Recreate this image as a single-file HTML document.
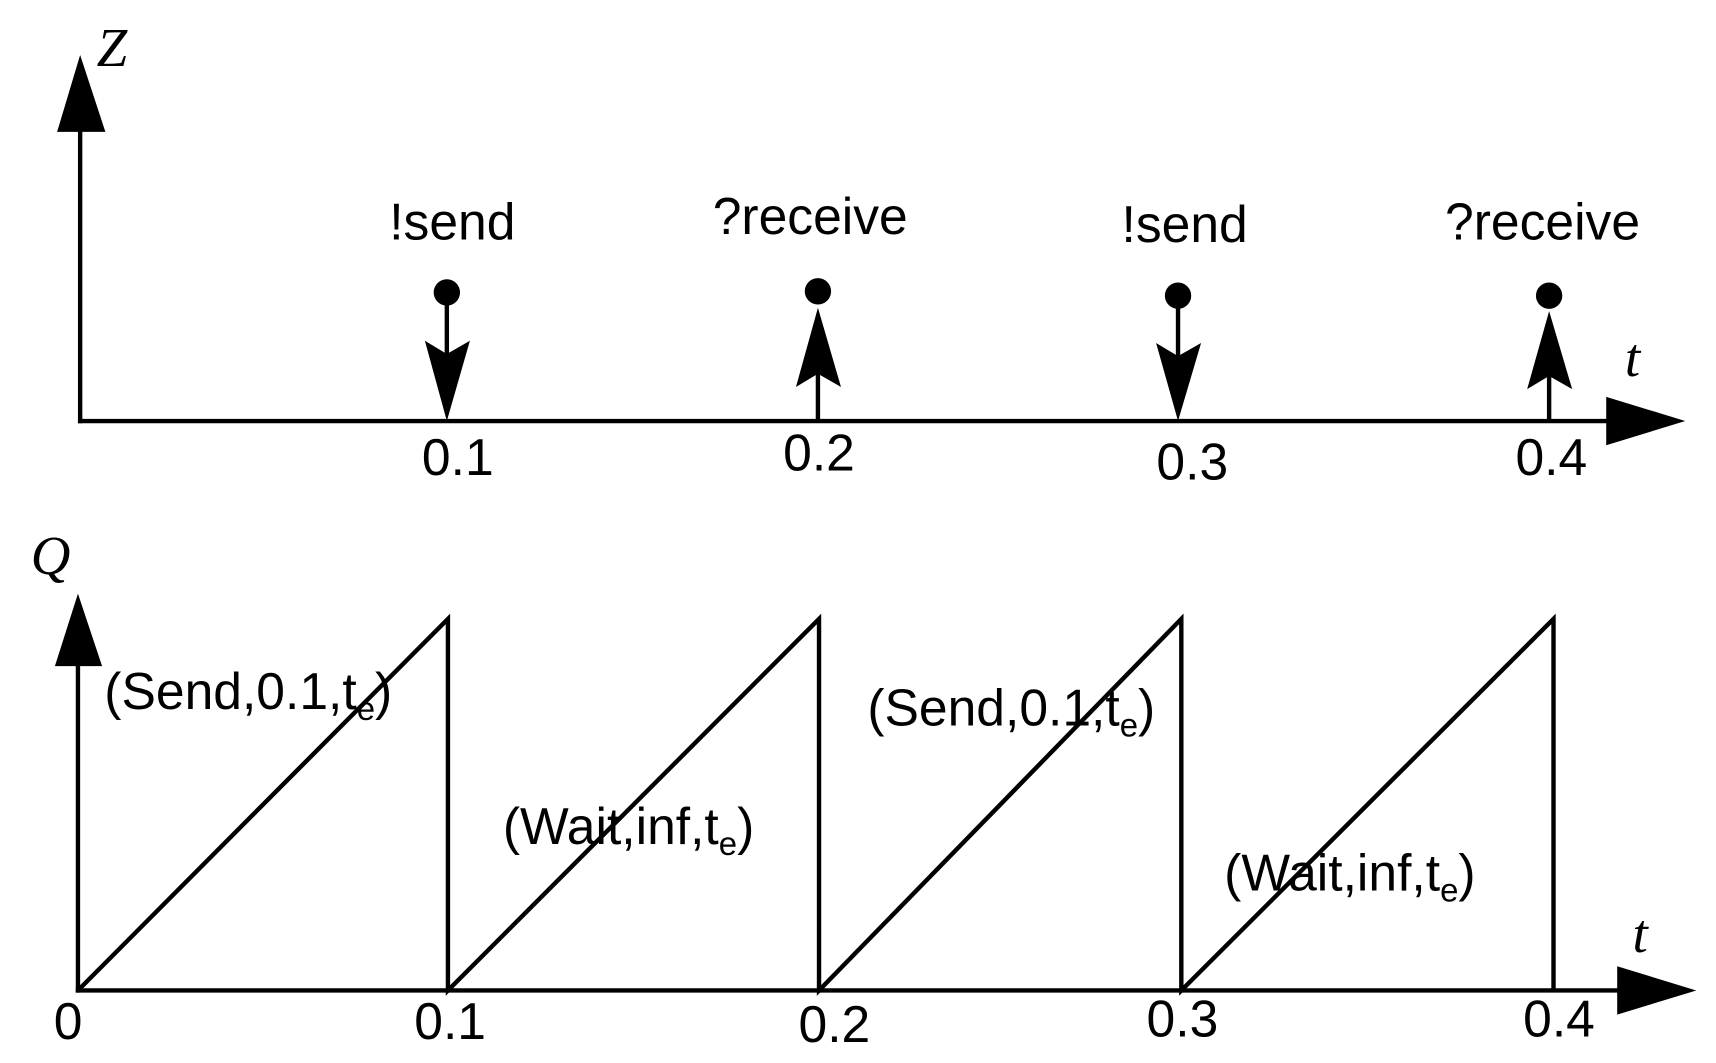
<!DOCTYPE html>
<html><head><meta charset="utf-8"><style>
html,body{margin:0;padding:0;background:#fff;}
svg{display:block;}
text{font-family:"Liberation Sans",Arial,sans-serif;font-size:47px;fill:#000;}
.it{font-family:"Liberation Serif",serif;font-style:italic;font-size:50px;}
</style></head><body>
<svg width="1716" height="1063" viewBox="0 0 1563 967" preserveAspectRatio="none" xmlns="http://www.w3.org/2000/svg">
<g stroke="#000" stroke-width="4" fill="none">
<line x1="73" y1="385" x2="73" y2="110"/>
<line x1="71" y1="383" x2="1470" y2="383"/>
<line x1="407" y1="266" x2="407" y2="330"/>
<line x1="745" y1="383" x2="745" y2="330"/>
<line x1="1073" y1="269" x2="1073" y2="330"/>
<line x1="1411" y1="383" x2="1411" y2="330"/>
<line x1="71" y1="903" x2="71" y2="600"/>
<line x1="69" y1="901" x2="1475" y2="901"/>
<polyline points="71,901 408,563 408,901 746,563 746,901 1076,563 1076,901 1415,563 1415,901"/>
</g>
<g fill="#000">
<polygon points="73,50 52,120 96,120"/>
<polygon points="1535,383 1463,361 1463,405"/>
<circle cx="407" cy="266" r="12"/>
<circle cx="745" cy="265" r="12"/>
<circle cx="1073" cy="269" r="12"/>
<circle cx="1411" cy="269" r="12"/>
<polygon points="407,383 387,310 407,322 428,310"/>
<polygon points="745,280 725,352 745,340 766,352"/>
<polygon points="1073,383 1053,312 1073,324 1094,312"/>
<polygon points="1411,283 1391,354 1411,342 1432,354"/>
<polygon points="71,540 50,606 93,606"/>
<polygon points="1545,901 1473,879 1473,923"/>
</g>
<text class="it" x="88" y="60">Z</text>
<text class="it" x="1480" y="342">t</text>
<text class="it" x="28" y="522">Q</text>
<text class="it" x="1487" y="866">t</text>
<text x="412" y="218" text-anchor="middle">!send</text>
<text x="738" y="213" text-anchor="middle">?receive</text>
<text x="1079" y="220" text-anchor="middle">!send</text>
<text x="1405" y="218" text-anchor="middle">?receive</text>
<text x="417" y="432" text-anchor="middle">0.1</text>
<text x="746" y="428" text-anchor="middle">0.2</text>
<text x="1086" y="436" text-anchor="middle">0.3</text>
<text x="1413" y="432" text-anchor="middle">0.4</text>
<text x="62" y="945" text-anchor="middle">0</text>
<text x="410" y="945" text-anchor="middle">0.1</text>
<text x="760" y="948" text-anchor="middle">0.2</text>
<text x="1077" y="943" text-anchor="middle">0.3</text>
<text x="1420" y="943" text-anchor="middle">0.4</text>
<text x="95" y="645">(Send,0.1,t<tspan font-size="30" dy="10">e</tspan><tspan dy="-10">)</tspan></text>
<text x="458" y="768">(Wait,inf,t<tspan font-size="30" dy="10">e</tspan><tspan dy="-10">)</tspan></text>
<text x="790" y="660">(Send,0.1,t<tspan font-size="30" dy="10">e</tspan><tspan dy="-10">)</tspan></text>
<text x="1115" y="810">(Wait,inf,t<tspan font-size="30" dy="10">e</tspan><tspan dy="-10">)</tspan></text>
</svg>
</body></html>
